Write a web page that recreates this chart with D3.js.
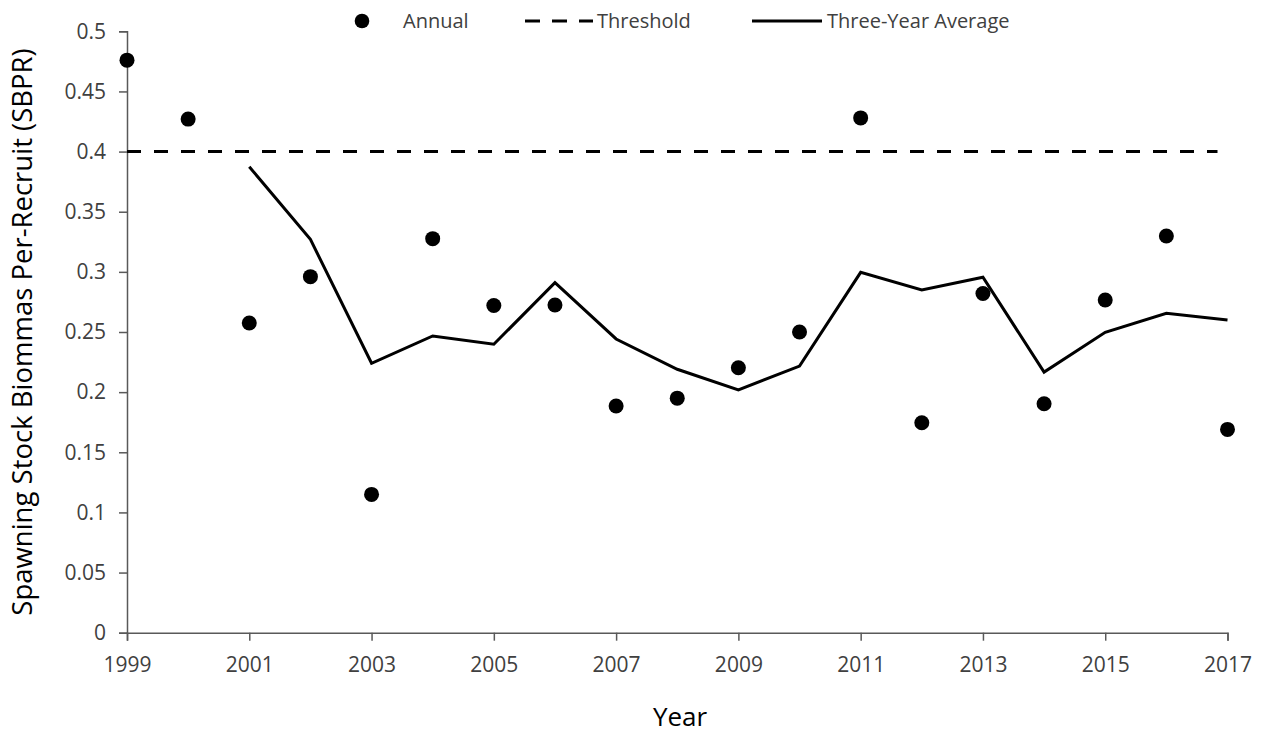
<!DOCTYPE html>
<html><head><meta charset="utf-8">
<script src="https://cdn.jsdelivr.net/npm/d3@7"></script>
<style>body{margin:0;background:#fff}svg{display:block}</style>
</head><body><svg id="c" width="1263" height="734"></svg>
<script>
const years = d3.range(1999, 2018);
const annual = [0.476,0.427,0.2575,0.296,0.115,0.3276,0.272,0.2725,0.1885,0.195,0.2203,0.250,0.428,0.1746,0.282,0.1904,0.2766,0.3298,0.169];
const avgYears = d3.range(2001, 2018);
const threeYearAvg = [0.3874,0.327,0.224,0.2467,0.2398,0.291,0.2442,0.219,0.2018,0.2217,0.2996,0.285,0.2955,0.2167,0.2497,0.2655,0.260];
const threshold = 0.4;
const xTicks = [1999,2001,2003,2005,2007,2009,2011,2013,2015,2017];
const yTicks = [0,0.05,0.1,0.15,0.2,0.25,0.3,0.35,0.4,0.45,0.5];

const svg = d3.select("#c");
const font = "'Open Sans', sans-serif";
const textCol = "#404040", axisCol = "#595959";
const x = d3.scaleLinear().domain([1999,2017]).range([127,1227.5]);
const y = d3.scaleLinear().domain([0,0.5]).range([632.7,31.3]);

const xa = svg.append("g").attr("transform",`translate(0,${y(0)})`)
  .call(d3.axisBottom(x).tickValues(xTicks).tickFormat(d3.format("d")).tickSizeOuter(0).tickSize(8).tickPadding(16));
const ya = svg.append("g").attr("transform",`translate(${x(1999)},0)`)
  .call(d3.axisLeft(y).tickValues(yTicks).tickFormat(d=>String(d)).tickSizeOuter(0).tickSize(8).tickPadding(13));
[xa,ya].forEach(a=>{
  a.selectAll("path,line").attr("stroke",axisCol).attr("stroke-width",1.5);
  a.selectAll("text").attr("fill",textCol).style("font-family",font).style("font-size","21px");
});

svg.append("line").attr("x1",x(1999)).attr("x2",x(2017)-10).attr("y1",y(threshold)).attr("y2",y(threshold))
  .attr("stroke","#000").attr("stroke-width",3).attr("stroke-dasharray","14,13");

const line = d3.line().x((d,i)=>x(avgYears[i])).y(d=>y(d));
svg.append("path").datum(threeYearAvg).attr("d",line).attr("fill","none").attr("stroke","#000").attr("stroke-width",3);

svg.append("g").selectAll("circle").data(annual).join("circle")
  .attr("cx",(d,i)=>x(years[i])).attr("cy",d=>y(d)).attr("r",7.5).attr("fill","#000");

// axis titles
svg.append("text").attr("x",680).attr("y",726).attr("text-anchor","middle")
  .attr("fill","#000").style("font-family",font).style("font-size","26px").text("Year");
svg.append("text").attr("transform",`translate(32,332) rotate(-90)`).attr("text-anchor","middle")
  .attr("fill","#000").style("font-family",font).style("font-size","27.5px").text("Spawning Stock Biommas Per-Recruit (SBPR)");

// legend
const lg = svg.append("g").style("font-family",font).style("font-size","20px").attr("fill",textCol);
lg.append("circle").attr("cx",362).attr("cy",21).attr("r",7.3).attr("fill","#000");
lg.append("text").attr("x",403).attr("y",28).text("Annual");
lg.append("line").attr("x1",525).attr("x2",593).attr("y1",21).attr("y2",21).attr("stroke","#000").attr("stroke-width",3).attr("stroke-dasharray","15,12");
lg.append("text").attr("x",597).attr("y",28).text("Threshold");
lg.append("line").attr("x1",752).attr("x2",822).attr("y1",21).attr("y2",21).attr("stroke","#000").attr("stroke-width",3);
lg.append("text").attr("x",827).attr("y",28).text("Three-Year Average");
</script></body></html>
